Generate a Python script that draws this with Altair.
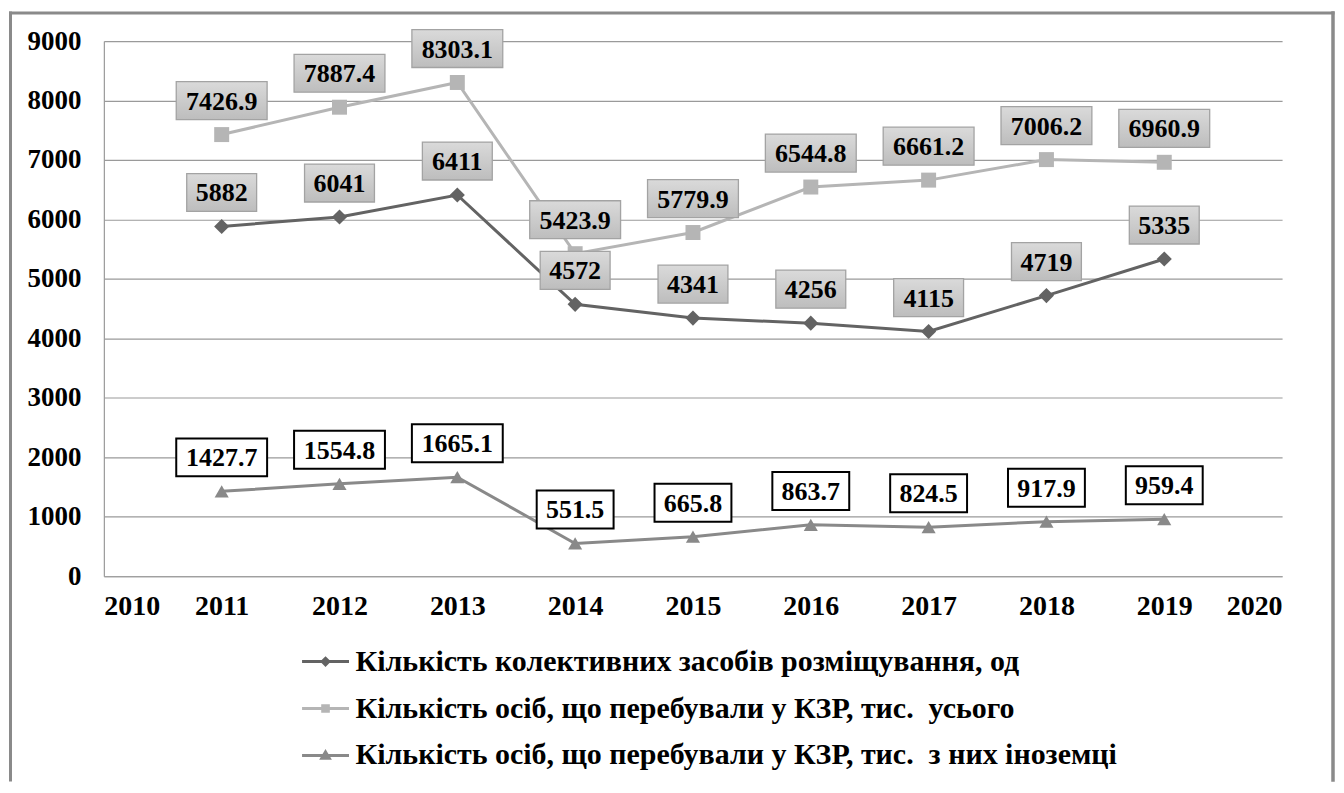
import altair as alt
import pandas as pd

# ---- data ----
years = [2011, 2012, 2013, 2014, 2015, 2016, 2017, 2018, 2019]
series_names = [
    "Кількість колективних засобів розміщування, од",
    "Кількість осіб, що перебували у КЗР, тис.\u00a0 усього",
    "Кількість осіб, що перебували у КЗР, тис.\u00a0 з них іноземці",
]
accommodation = [5882, 6041, 6411, 4572, 4341, 4256, 4115, 4719, 5335]
guests_total = [7426.9, 7887.4, 8303.1, 5423.9, 5779.9, 6544.8, 6661.2, 7006.2, 6960.9]
guests_foreign = [1427.7, 1554.8, 1665.1, 551.5, 665.8, 863.7, 824.5, 917.9, 959.4]
x_ticks = list(range(2010, 2021))
y_ticks = list(range(0, 9001, 1000))

colors = ["#636363", "#b5b5b5", "#898989"]
point_shapes = ["diamond", "square", "triangle-up"]
point_sizes = [230, 225, 200]
# line + marker drawn with a thick stroke (nested outlines so the marker looks solid)
legend_paths = [
    "M-1,0L1,0M0,-0.14L0.14,0L0,0.14L-0.14,0ZM0,-0.07L0.07,0L0,0.07L-0.07,0Z",
    "M-1,0L1,0M-0.12,-0.12L0.12,-0.12L0.12,0.12L-0.12,0.12ZM-0.05,-0.05L0.05,-0.05L0.05,0.05L-0.05,0.05Z",
    "M-1,0L1,0M0,-0.15L0.16,0.12L-0.16,0.12ZM0,-0.07L0.08,0.08L-0.08,0.08Z",
]

rows = []
for name, vals, is_int in zip(series_names, [accommodation, guests_total, guests_foreign], [True, False, False]):
    for y, v in zip(years, vals):
        lab = str(int(v)) if is_int else f"{v:.1f}"
        rows.append({"year": y, "value": v, "series": name, "label": lab, "n": len(lab)})
df = pd.DataFrame(rows)

FONT = "Liberation Serif"
W, H = 1180, 536

x_enc = alt.X("year:Q", scale=alt.Scale(domain=[2010, 2020], nice=False, zero=False),
              axis=alt.Axis(values=x_ticks, format="d", title=None, grid=False, ticks=False,
                            labelPadding=16, labelFontSize=28,
                            domainColor="#9a9a9a", domainWidth=1.2))
y_enc = alt.Y("value:Q", scale=alt.Scale(domain=[0, 9000], nice=False),
              axis=alt.Axis(values=y_ticks, format="d", title=None, grid=True, gridColor="#9a9a9a",
                            gridWidth=1.2, ticks=False, labelPadding=23, labelFontSize=27,
                            domainColor="#9a9a9a", domainWidth=1.2))

one = pd.DataFrame({"a": [0]})
frame_color = "#8a8a8a"
frame = [
    alt.Chart(one).mark_rule(color=frame_color, strokeWidth=3, strokeCap="square").encode(
        x=alt.value(-93.5), y=alt.value(-28), y2=alt.value(740)),
    alt.Chart(one).mark_rule(color=frame_color, strokeWidth=3, strokeCap="square").encode(
        x=alt.value(-93.5), x2=alt.value(1231), y=alt.value(-28)),
    alt.Chart(one).mark_rule(color=frame_color, strokeWidth=3.5, strokeCap="square").encode(
        x=alt.value(1231), y=alt.value(-28), y2=alt.value(740)),
]

lines = []
points = []
for name, shp, col, sz in zip(series_names, point_shapes, colors, point_sizes):
    lines.append(
        alt.Chart(df).transform_filter(alt.datum.series == name).mark_line(
            strokeWidth=3, color=col
        ).encode(x=x_enc, y=y_enc)
    )
    points.append(
        alt.Chart(df).transform_filter(alt.datum.series == name).mark_point(
            shape=shp, filled=True, color=col, size=sz, opacity=1, strokeWidth=0
        ).encode(x=x_enc, y=y_enc)
    )

gray_fill = alt.Gradient(
    gradient="linear",
    stops=[alt.GradientStop(color="#dadada", offset=0), alt.GradientStop(color="#bdbdbd", offset=1)],
    x1=0, x2=0, y1=0, y2=1,
)
box_width = {4: 70, 5: 77, 6: 91}
boxes = []
for i, name in enumerate(series_names):
    for n, w in box_width.items():
        if i < 2:
            style = dict(fill=gray_fill, stroke="#a3a3a3", strokeWidth=1.3)
        else:
            style = dict(fill="white", stroke="black", strokeWidth=2)
        boxes.append(
            alt.Chart(df).transform_filter(
                (alt.datum.series == name) & (alt.datum.n == n)
            ).mark_rect(xOffset=-w / 2, x2Offset=w / 2, yOffset=-53, y2Offset=-15, **style).encode(
                x=x_enc, x2="year:Q", y=y_enc, y2="value:Q")
        )

texts = alt.Chart(df).mark_text(
    font=FONT, fontSize=26, fontWeight="bold", color="black", yOffset=-33, baseline="middle", align="center"
).encode(x=x_enc, y=y_enc, text="label:N")

leg = alt.Legend(
    title=None, orient="none", legendX=197, legendY=596.5, direction="vertical",
    labelFont=FONT, labelFontSize=30, labelFontWeight="bold", labelColor="black",
    labelLimit=2000, symbolSize=2209, symbolStrokeWidth=3, rowPadding=7, labelOffset=5,
    padding=0, symbolOpacity=1,
)
# invisible marks that only carry the legend
legend_layer = alt.Chart(df).mark_point(filled=False, opacity=0, strokeWidth=3, size=10).encode(
    x=x_enc, y=y_enc,
    color=alt.Color("series:N", scale=alt.Scale(domain=series_names, range=colors), legend=leg),
    shape=alt.Shape("series:N", scale=alt.Scale(domain=series_names, range=legend_paths), legend=leg),
)

chart = alt.layer(*frame, *lines, *points, *boxes, texts, legend_layer).properties(
    width=W, height=H,
    padding={"left": 0, "top": 1.5, "right": 0, "bottom": 0},
    background="white",
).configure_view(stroke=None).configure_axis(
    labelFont=FONT, labelFontWeight="bold", labelColor="black"
)

chart.save("out.html", embed_options={"renderer": "svg", "actions": False})
